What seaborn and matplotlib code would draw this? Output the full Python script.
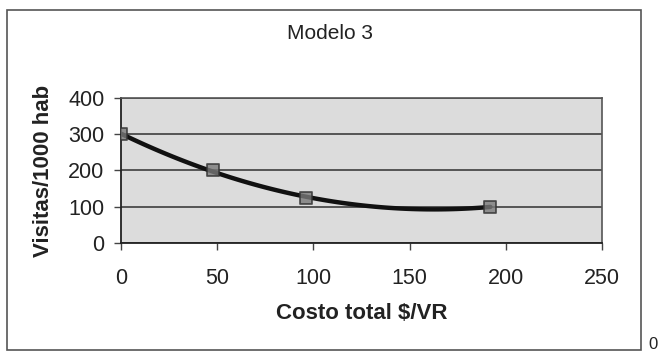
import matplotlib
matplotlib.use("Agg")
import matplotlib.pyplot as plt
import matplotlib.patches as mpatches
import seaborn as sns
import pandas as pd

costo = [0, 48, 96, 192]
visitas = [300, 200, 125, 100]
x_ticks = [0, 50, 100, 150, 200, 250]
y_ticks = [0, 100, 200, 300, 400]
title = "Modelo 3"
xlabel = "Costo total $/VR"
ylabel = "Visitas/1000 hab"

sns.set_style("white")
plt.rcParams["font.family"] = ["Liberation Sans", "DejaVu Sans"]

df = pd.DataFrame({"costo": costo, "visitas": visitas})

fig = plt.figure(figsize=(6.6, 3.52), dpi=100)
ax = fig.add_axes([0.1836, 0.3097, 0.7284, 0.4119])
ax.set_facecolor("#dcdcdc")

sns.regplot(data=df, x="costo", y="visitas", order=2, ci=None, ax=ax,
            marker="s", truncate=True,
            scatter_kws=dict(s=85, color="#7a7a7a", edgecolor="#333333", linewidths=1.3, zorder=4),
            line_kws=dict(color="#111111", linewidth=3.2, zorder=3))

ax.set_xlim(0, 250)
ax.set_ylim(0, 400)
ax.set_xticks(x_ticks)
ax.set_yticks(y_ticks)
ax.yaxis.grid(True, color="#4a4a4a", linewidth=1.3)
ax.set_axisbelow(True)
for s in ["left", "bottom"]:
    ax.spines[s].set_color("#222222")
    ax.spines[s].set_linewidth(1.3)
for s in ["top", "right"]:
    ax.spines[s].set_color("#555555")
    ax.spines[s].set_linewidth(1.2)
ax.tick_params(axis="both", which="both", direction="out", length=5, width=1,
               color="#444444", labelsize=15.5, labelcolor="#222222", pad=7,
               bottom=True, left=True)
ax.tick_params(axis="x", pad=13)
ax.set_xlabel(xlabel, fontsize=16, fontweight="bold", color="#222222", labelpad=10)
ax.set_ylabel(ylabel, fontsize=16, fontweight="bold", color="#222222", labelpad=10)

fig.text(0.5, 0.905, title, ha="center", va="center", fontsize=15, color="#222222")
fig.patches.append(mpatches.Rectangle((0.0106, 0.006), 0.9606, 0.9656,
                                      transform=fig.transFigure, fill=False,
                                      edgecolor="#555555", linewidth=1.2))
fig.text(0.983, 0.0, "0", ha="left", va="bottom", fontsize=12, color="#222222")

fig.savefig("out.png", dpi=100)
